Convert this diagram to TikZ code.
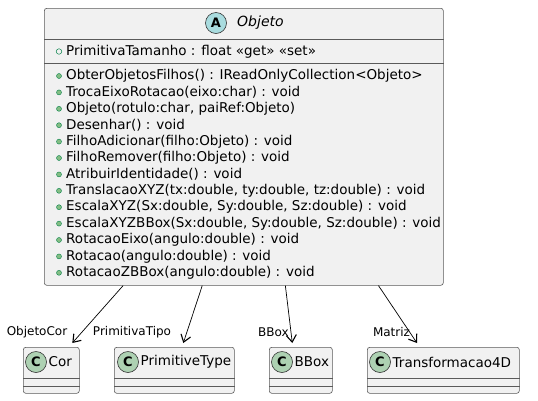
\documentclass[tikz,border=0pt]{standalone}
\usepackage{fontspec}
\setmainfont{DejaVu Sans}
\usetikzlibrary{arrows.meta}
\usetikzlibrary{calc}
\usetikzlibrary{positioning}
\definecolor{boxfill}{HTML}{F1F1F1}
\definecolor{boxline}{HTML}{5A5A5A}
\definecolor{abstractcirc}{HTML}{A9DCDF}
\definecolor{classcirc}{HTML}{ADD1B2}
\definecolor{methodfill}{HTML}{84BE84}
\definecolor{methodline}{HTML}{038048}
\tikzset{
  classbox/.style={draw=boxline, fill=boxfill, line width=0.6pt, rounded corners=2.5pt, inner sep=0pt, anchor=north west},
  circicon/.style={circle, draw=black!80, line width=0.6pt, minimum size=21pt, inner sep=0pt, font=\bfseries\fontsize{13}{13}\selectfont},
  membro/.style={anchor=west, inner sep=0pt, font=\fontsize{13.5}{13.5}\selectfont},
  metodoicon/.style={circle, fill=methodfill, draw=methodline, line width=0.4pt, minimum size=5pt, inner sep=0pt},
  campoicon/.style={circle, draw=methodline, line width=0.5pt, minimum size=5.5pt, inner sep=0pt},
  rotulo/.style={inner sep=0pt, font=\fontsize{12}{12}\selectfont},
  seta/.style={line width=0.7pt, -{Straight Barb[length=7pt, width=10pt, line width=1.1pt]}}
}

\begin{document}
\begin{tikzpicture}[x=1pt, y=-1pt]
    \useasboundingbox (0, 0) rectangle (538, 400);

    % classe abstrata
    \node[classbox, minimum width=399pt, minimum height=277pt] (objeto) at (44, 8) {};
    \draw[boxline, line width=0.6pt] (objeto.west |- 0, 39) -- (objeto.east |- 0, 39);
    \draw[boxline, line width=0.6pt] (objeto.west |- 0, 63) -- (objeto.east |- 0, 63);
    \node[circicon, fill=abstractcirc] (objetoA) at (216, 23) {A};
    \node[membro, font=\itshape\fontsize{14}{14}\selectfont] (objetoNome) at (237, 23) {Objeto};

    \node[campoicon] (campoIcon) at (59, 51.5) {};
    \node[membro] (campo) at (66, 51.5) {PrimitivaTamanho : float «get» «set»};

    \foreach \metodo [count=\i from 0] in {
        {ObterObjetosFilhos() : IReadOnlyCollection<Objeto>},
        {TrocaEixoRotacao(eixo:char) : void},
        {Objeto(rotulo:char, paiRef:Objeto)},
        {Desenhar() : void},
        {FilhoAdicionar(filho:Objeto) : void},
        {FilhoRemover(filho:Objeto) : void},
        {AtribuirIdentidade() : void},
        {TranslacaoXYZ(tx:double, ty:double, tz:double) : void},
        {EscalaXYZ(Sx:double, Sy:double, Sz:double) : void},
        {EscalaXYZBBox(Sx:double, Sy:double, Sz:double) : void},
        {RotacaoEixo(angulo:double) : void},
        {Rotacao(angulo:double) : void},
        {RotacaoZBBox(angulo:double) : void}} {
        \node[metodoicon] (icone\i) at (59, {76 + 16.4*\i}) {};
        \node[membro] (metodo\i) at (66, {76 + 16.4*\i}) {\metodo};
    }

    % classes associadas
    \node[classbox, minimum width=56pt, minimum height=46pt] (cor) at (23, 347) {};
    \node[classbox, minimum width=120pt, minimum height=46pt] (primitiveType) at (114, 347) {};
    \node[classbox, minimum width=63pt, minimum height=46pt] (bbox) at (269, 347) {};
    \node[classbox, minimum width=152pt, minimum height=46pt] (transformacao) at (367, 347) {};

    \foreach \caixa/\cx/\nome in {cor/36/Cor, primitiveType/128/PrimitiveType, bbox/282/BBox, transformacao/380/Transformacao4D} {
        \draw[boxline, line width=0.6pt] (\caixa.west |- 0, 378) -- (\caixa.east |- 0, 378);
        \draw[boxline, line width=0.6pt] (\caixa.west |- 0, 386) -- (\caixa.east |- 0, 386);
        \node[circicon, fill=classcirc] (\caixa C) at (\cx, 362) {C};
        \node[membro, font=\fontsize{13.5}{13.5}\selectfont] (\caixa Nome) at (\cx + 12.5, 362) {\nome};
    }

    % associacoes
    \coordinate (saiCor) at ($(objeto.south west)!0.198!(objeto.south east)$);
    \coordinate (saiTipo) at ($(objeto.south west)!0.396!(objeto.south east)$);
    \coordinate (saiBBox) at ($(objeto.south west)!0.604!(objeto.south east)$);
    \coordinate (saiMatriz) at ($(objeto.south west)!0.837!(objeto.south east)$);
    \coordinate (chegaCor) at ($(cor.north) + (21, -4)$);
    \coordinate (chegaTipo) at ($(primitiveType.north) + (9, -4)$);
    \coordinate (chegaBBox) at ($(bbox.north) + (-8.5, -4)$);
    \coordinate (chegaMatriz) at ($(transformacao.north west) + (50, -4)$);

    \draw[seta] (saiCor) -- (chegaCor);
    \draw[seta] (saiTipo) -- (chegaTipo);
    \draw[seta] (saiBBox) -- (chegaBBox);
    \draw[seta] (saiMatriz) -- (chegaMatriz);

    \node[rotulo] (rotuloCor) at (37, 332) {ObjetoCor};
    \node[rotulo] (rotuloTipo) at (132, 332) {PrimitivaTipo};
    \node[rotulo] (rotuloBBox) at (273.5, 332) {BBox};
    \node[rotulo] (rotuloMatriz) at (391.5, 332) {Matriz};
\end{tikzpicture}
\end{document}
